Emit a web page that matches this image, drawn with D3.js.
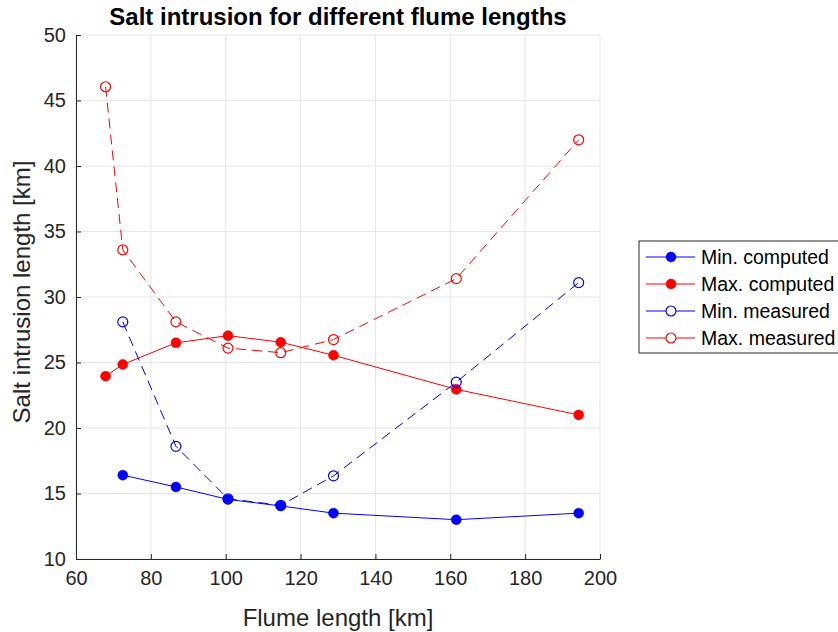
<!DOCTYPE html>
<html>
<head>
<meta charset="utf-8">
<script src="https://cdn.jsdelivr.net/npm/d3@7"></script>
<style>
body { margin: 0; background: #fff; }
svg text { font-family: "Liberation Sans", Arial, sans-serif; fill: #262626; }
</style>
</head>
<body>
<div id="chart"></div>
<script>
// data
var xAll = [67.9, 72.5, 86.7, 100.6, 114.7, 128.8, 161.6, 194.3]
var xMin = [72.5, 86.7, 100.6, 114.7, 128.8, 161.6, 194.3]
var minComputed = [16.4, 15.5, 14.55, 14.05, 13.5, 13.0, 13.5]
var maxComputed = [23.95, 24.85, 26.5, 27.05, 26.55, 25.55, 22.95, 21.0]
var minMeasured = [28.1, 18.6, 14.6, 14.1, 16.35, 23.5, 31.1]
var maxMeasured = [46.05, 33.6, 28.1, 26.1, 25.75, 26.75, 31.4, 42.0]
var xTicks = [60, 80, 100, 120, 140, 160, 180, 200]
var yTicks = [10, 15, 20, 25, 30, 35, 40, 45, 50]
var seriesNames = ['Min. computed', 'Max. computed', 'Min. measured', 'Max. measured']

var W = 838, H = 632
var pLeft = 76, pRight = 600, pTop = 35, pBottom = 559

var x = d3.scaleLinear().domain([60, 200]).range([pLeft, pRight])
var y = d3.scaleLinear().domain([10, 50]).range([pBottom, pTop])

var svg = d3.select('#chart').append('svg')
	.attr('width', W)
	.attr('height', H)

// grid
var grid = svg.append('g').attr('class', 'grid')
xTicks.forEach(t => {
	grid.append('line')
		.attr('x1', x(t)).attr('x2', x(t))
		.attr('y1', pTop).attr('y2', pBottom)
		.style('stroke', '#e6e6e6').style('stroke-width', 1)
})
yTicks.forEach(t => {
	grid.append('line')
		.attr('x1', pLeft).attr('x2', pRight)
		.attr('y1', y(t)).attr('y2', y(t))
		.style('stroke', '#e6e6e6').style('stroke-width', 1)
})

// axes
var xAxis = d3.axisBottom(x).tickValues(xTicks).tickSizeInner(-5).tickSizeOuter(0).tickPadding(12)
var yAxis = d3.axisLeft(y).tickValues(yTicks).tickSizeInner(-5).tickSizeOuter(0).tickPadding(10)
var gx = svg.append('g').attr('transform', 'translate(0,' + pBottom + ')').call(xAxis)
var gy = svg.append('g').attr('transform', 'translate(' + pLeft + ',0)').call(yAxis)
;[gx, gy].forEach(g => {
	g.select('.domain').style('stroke', '#262626').style('stroke-width', 1)
	g.selectAll('.tick line').style('stroke', '#262626')
	g.selectAll('.tick text').style('font-size', '20px')
		.style('font-family', '"Liberation Sans", Arial, sans-serif').style('fill', '#262626')
})

// series
var series = [
	{name: seriesNames[0], xs: xMin, ys: minComputed, color: '#0000ff', dash: null, fill: true},
	{name: seriesNames[1], xs: xAll, ys: maxComputed, color: '#ff0000', dash: null, fill: true},
	{name: seriesNames[2], xs: xMin, ys: minMeasured, color: '#0000ff', dash: '10,6', fill: false},
	{name: seriesNames[3], xs: xAll, ys: maxMeasured, color: '#ff0000', dash: '10,6', fill: false}
]
var line = d3.line().x(d => x(d[0])).y(d => y(d[1]))

series.forEach(s => {
	var pts = s.xs.map((v, i) => [v, s.ys[i]])
	var g = svg.append('g')
	g.append('path').datum(pts)
		.attr('d', line)
		.style('fill', 'none')
		.style('stroke', s.color)
		.style('stroke-width', 1)
		.style('stroke-dasharray', s.dash)
	g.selectAll('circle').data(pts).enter().append('circle')
		.attr('cx', d => x(d[0]))
		.attr('cy', d => y(d[1]))
		.attr('r', 5)
		.style('fill', s.fill ? s.color : 'none')
		.style('stroke', s.color)
		.style('stroke-width', s.fill ? 0.5 : 1.2)
})

// title and labels
svg.append('text')
	.attr('x', (pLeft + pRight) / 2).attr('y', 25)
	.attr('text-anchor', 'middle')
	.style('font-size', '24px').style('font-weight', 'bold').style('fill', '#000')
	.text('Salt intrusion for different flume lengths')
svg.append('text')
	.attr('x', (pLeft + pRight) / 2).attr('y', 626)
	.attr('text-anchor', 'middle')
	.style('font-size', '24px')
	.text('Flume length [km]')
svg.append('text')
	.attr('transform', 'translate(30,' + 292 + ') rotate(-90)')
	.attr('text-anchor', 'middle')
	.style('font-size', '24px')
	.text('Salt intrusion length [km]')

// legend
var lg = svg.append('g').attr('transform', 'translate(639,241)')
lg.append('rect')
	.attr('x', 0).attr('y', 0).attr('width', 220).attr('height', 112)
	.style('fill', '#fff').style('stroke', '#262626').style('stroke-width', 1)
series.forEach((s, i) => {
	var cy = 16 + i * 27
	lg.append('line')
		.attr('x1', 7).attr('x2', 56).attr('y1', cy).attr('y2', cy)
		.style('stroke', s.color).style('stroke-width', 1)
	lg.append('circle')
		.attr('cx', 32).attr('cy', cy).attr('r', 5)
		.style('fill', s.fill ? s.color : '#fff')
		.style('stroke', s.color).style('stroke-width', s.fill ? 0.5 : 1.2)
	lg.append('text')
		.attr('x', 62).attr('y', cy + 7)
		.style('font-size', '19.5px').style('fill', '#000')
		.text(s.name)
})
</script>
</body>
</html>
